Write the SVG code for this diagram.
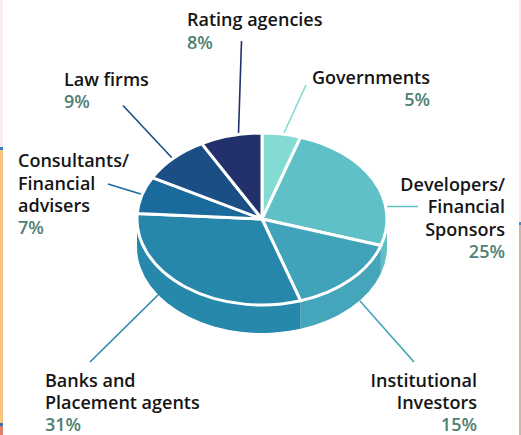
<svg xmlns="http://www.w3.org/2000/svg" width="521" height="435" viewBox="0 0 521 435">
<style>
.lbl{font-family:"Open Sans","Liberation Sans",sans-serif;font-size:18px;font-weight:600;fill:#151515}
.pct{fill:#4f7f73}
.end{text-anchor:end}
.top{stroke:#fff;stroke-width:3;stroke-linejoin:round}
.lead{fill:none;stroke-width:1.6}
</style>
<rect width="521" height="435" fill="#fff"/>
<g id="frame">
<rect x="0" y="0" width="3" height="147" fill="#fbeef0"/>
<rect x="0" y="147" width="3" height="3" fill="#3a7cc0"/>
<rect x="0" y="150" width="3" height="273" fill="#f9c47f"/>
<rect x="0" y="423" width="3" height="3" fill="#3a6fb0"/>
<rect x="0" y="426" width="3" height="9" fill="#e0806a"/>
<rect x="519" y="0" width="2" height="222" fill="#f8e8ec"/>
<rect x="519" y="222" width="2" height="3" fill="#4a86c0"/>
<rect x="519" y="225" width="2" height="210" fill="#c8b8b0"/>
</g>
<g id="connectors">
<line class="lead" x1="241.5" y1="41" x2="238.5" y2="133" stroke="#22316c"/>
<line class="lead" x1="306" y1="85" x2="284" y2="133" stroke="#84dbd3"/>
<line class="lead" x1="384" y1="206.5" x2="418" y2="206.5" stroke="#60c0c7"/>
<line class="lead" x1="360" y1="301" x2="414" y2="362" stroke="#40a3b9"/>
<line class="lead" x1="158" y1="295" x2="90" y2="362" stroke="#2787ab"/>
<line class="lead" x1="108" y1="184" x2="144" y2="195" stroke="#1a6a9c"/>
<line class="lead" x1="123" y1="105.5" x2="173" y2="159" stroke="#1c4e86"/>
</g>
<g id="pie-side">
<path d="M387,219 A125,86 0 0 1 380.88,245.58 L380.88,273.58 A125,86 0 0 0 387,247 Z" fill="#5fbfc5"/>
<path d="M380.88,245.58 A125,86 0 0 1 300.63,300.79 L300.63,328.79 A125,86 0 0 0 380.88,273.58 Z" fill="#45a6bb"/>
<path d="M300.63,300.79 A125,86 0 0 1 137,219 L137,247 A125,86 0 0 0 300.63,328.79 Z" fill="#2688ab"/>
</g>
<g id="governments">
<path class="top" d="M262,219 L262,133 A125,86 0 0 1 300.63,137.21 Z" fill="#84dbd3"/>
<text class="lbl end" x="430" y="84">Governments</text>
<text class="lbl pct end" x="430" y="106">5%</text>
</g>
<g id="developers">
<path class="top" d="M262,219 L300.63,137.21 A125,86 0 0 1 380.88,245.58 Z" fill="#60c0c7"/>
<text class="lbl end" x="505" y="190.5">Developers/</text>
<text class="lbl end" x="505" y="213">Financial</text>
<text class="lbl end" x="505" y="235.5">Sponsors</text>
<text class="lbl pct end" x="505" y="257.5">25%</text>
</g>
<g id="institutional">
<path class="top" d="M262,219 L380.88,245.58 A125,86 0 0 1 300.63,300.79 Z" fill="#40a3b9"/>
<text class="lbl end" x="477" y="386.5">Institutional</text>
<text class="lbl end" x="477" y="408.5">Investors</text>
<text class="lbl pct end" x="477" y="430.5">15%</text>
</g>
<g id="banks">
<path class="top" d="M262,219 L300.63,300.79 A125,86 0 0 1 137.25,213.6 Z" fill="#2787ab"/>
<text class="lbl" x="45" y="386.5">Banks and</text>
<text class="lbl" x="45" y="408.5">Placement agents</text>
<text class="lbl pct" x="45" y="430.5">31%</text>
</g>
<g id="consultants">
<path class="top" d="M262,219 L137.25,213.6 A125,86 0 0 1 152.46,177.57 Z" fill="#1a6a9c"/>
<text class="lbl" x="18" y="166.5">Consultants/</text>
<text class="lbl" x="18" y="189.5">Financial</text>
<text class="lbl" x="18" y="211.5">advisers</text>
<text class="lbl pct" x="18" y="234">7%</text>
</g>
<g id="law-firms">
<path class="top" d="M262,219 L152.46,177.57 A125,86 0 0 1 201.78,143.64 Z" fill="#1c4e86"/>
<text class="lbl" x="64" y="85.5">Law firms</text>
<text class="lbl pct" x="64" y="107.5">9%</text>
</g>
<g id="rating-agencies">
<path class="top" d="M262,219 L201.78,143.64 A125,86 0 0 1 262,133 Z" fill="#22316c"/>
<text class="lbl" x="187" y="26">Rating agencies</text>
<text class="lbl pct" x="187" y="48.5">8%</text>
</g>
</svg>
